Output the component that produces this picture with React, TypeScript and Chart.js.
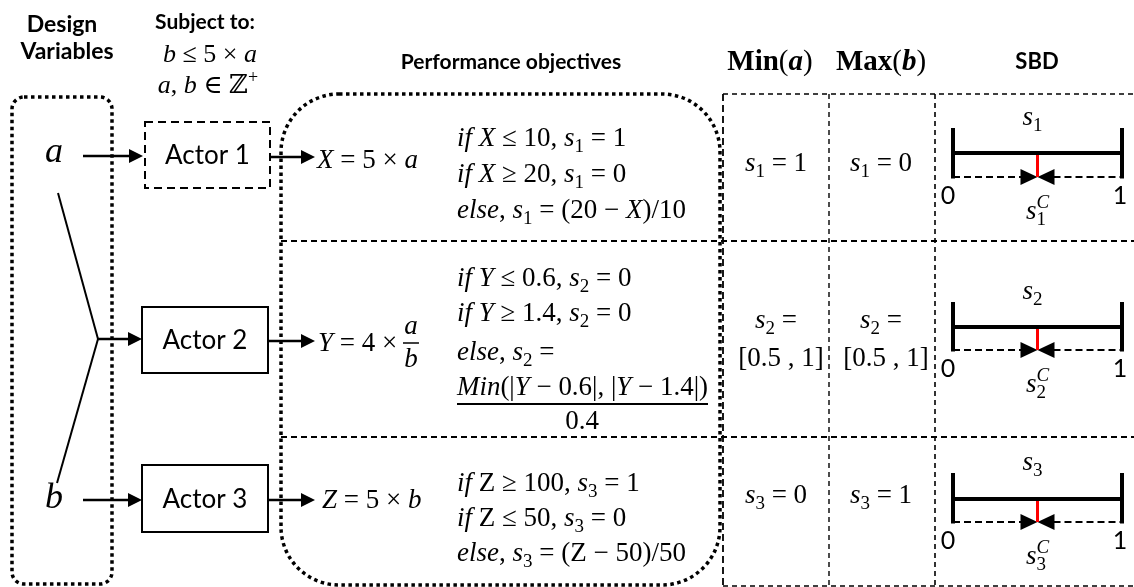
import React, { useEffect, useRef } from "react";
import { Chart, registerables } from "chart.js";

Chart.register(...registerables);

// ---------------- data ----------------
const headers = ["Design", "Variables", "Subject to:", "Performance objectives", "SBD"];
const designVariables = ["a", "b"];
const constraints = ["*b* ≤ 5 × *a*", "*a*, *b* ∈ ℤ^{+}"];
const actors = ["Actor 1", "Actor 2", "Actor 3"];
const outputs = ["*X* = 5 × *a*", "*Y* = 4 × ", "*Z* = 5 × *b*"];
const outputFraction = ["*a*", "*b*"];
const rulesX = ["*if X* ≤ 10, *s*_{1} = 1", "*if X* ≥ 20, *s*_{1} = 0", "*else*, *s*_{1} = (20 − *X*)/10"];
const rulesY = ["*if Y* ≤ 0.6, *s*_{2} = 0", "*if Y* ≥ 1.4, *s*_{2} = 0", "*else*, *s*_{2} ="];
const rulesYFraction = ["*Min*(|*Y* − 0.6|, |*Y* − 1.4|)", "0.4"];
const rulesZ = ["*if* Z ≥ 100, *s*_{3} = 1", "*if* Z ≤ 50, *s*_{3} = 0", "*else*, *s*_{3} = (Z − 50)/50"];
const columnHeaders = ["#Min#(#*a*#)", "#Max#(#*b*#)"];
const minA = [["*s*_{1} = 1"], ["*s*_{2} =", "[0.5 , 1]"], ["*s*_{3} = 0"]];
const maxB = [["*s*_{1} = 0"], ["*s*_{2} =", "[0.5 , 1]"], ["*s*_{3} = 1"]];
const sbdNames = ["*s*_{1}", "*s*_{2}", "*s*_{3}"];
const sbdCompromiseNames = ["*s*_{1}^{*C*}", "*s*_{2}^{*C*}", "*s*_{3}^{*C*}"];
const sbdRange = [0, 1];
const sbdCompromise = [0.5, 0.5, 0.5];

// ---------------- rendering helpers ----------------
const W = 1134;
const H = 587;
const SANS = 'Lato, "Open Sans", sans-serif';
const SERIF = '"Liberation Serif", "DejaVu Serif", serif';

type Tok = { t: string; it: boolean; bd: boolean; k: number };

function parse(s: string): Tok[] {
  const out: Tok[] = [];
  let it = false, bd = false, k = 0, buf = "";
  const flush = () => {
    if (buf) { out.push({ t: buf, it, bd, k }); buf = ""; }
  };
  for (let i = 0; i < s.length; i++) {
    const c = s[i];
    if (c === "*") { flush(); it = !it; }
    else if (c === "#") { flush(); bd = !bd; }
    else if ((c === "_" || c === "^") && s[i + 1] === "{") { flush(); k = c === "_" ? 1 : 2; i++; }
    else if (c === "}" && k) { flush(); k = 0; }
    else buf += c;
  }
  flush();
  return out;
}

function rich(ctx: CanvasRenderingContext2D, s: string, x: number, y: number, size: number, align: string, maxW = 0, family = SERIF) {
  const toks = parse(s);
  const fontOf = (tk: Tok) => `${tk.it ? "italic " : ""}${tk.bd ? "bold " : ""}${tk.k ? Math.round(size * 0.7) : size}px ${family}`;
  const pos: number[] = [];
  let cx = 0, subStart = 0, groupEnd = 0;
  toks.forEach((tk, i) => {
    ctx.font = fontOf(tk);
    const w = ctx.measureText(tk.t).width;
    if (tk.k === 2 && i > 0 && toks[i - 1].k === 1) {
      pos.push(subStart);
      cx = Math.max(groupEnd, subStart + w);
    } else {
      if (tk.k === 1) subStart = cx;
      pos.push(cx);
      cx += w;
      groupEnd = cx;
    }
  });
  const sc = maxW && cx > maxW ? maxW / cx : 1;
  const tw = cx * sc;
  const x0 = align === "center" ? x - tw / 2 : align === "right" ? x - tw : x;
  ctx.save();
  ctx.translate(x0, y);
  ctx.scale(sc, 1);
  ctx.textAlign = "left";
  ctx.textBaseline = "alphabetic";
  toks.forEach((tk, i) => {
    ctx.font = fontOf(tk);
    const dy = tk.k === 1 ? size * 0.22 : tk.k === 2 ? -size * 0.4 : 0;
    ctx.fillText(tk.t, pos[i], dy);
  });
  ctx.restore();
  return tw;
}

const diagramPlugin = {
  id: "diagram",
  afterDraw(chart: any) {
    const ctx: CanvasRenderingContext2D = chart.ctx;
    const xs = chart.scales.x, ys = chart.scales.y;
    const X = (v: number) => xs.getPixelForValue(v);
    const Y = (v: number) => ys.getPixelForValue(v);
    ctx.save();
    ctx.fillStyle = "#000";
    ctx.strokeStyle = "#000";

    const line = (x1: number, y1: number, x2: number, y2: number, w: number, dash: number[] = []) => {
      ctx.beginPath();
      ctx.setLineDash(dash);
      ctx.lineWidth = w;
      ctx.moveTo(X(x1), Y(y1));
      ctx.lineTo(X(x2), Y(y2));
      ctx.stroke();
      ctx.setLineDash([]);
    };
    const head = (tipX: number, y: number, dir: number, len = 13, half = 6.5) => {
      ctx.beginPath();
      ctx.moveTo(X(tipX), Y(y));
      ctx.lineTo(X(tipX - dir * len), Y(y - half));
      ctx.lineTo(X(tipX - dir * len), Y(y + half));
      ctx.closePath();
      ctx.fill();
    };
    const arrow = (x1: number, x2: number, y: number) => {
      line(x1, y, x2 - 10, y, 2.5);
      head(x2, y, 1, 14, 7);
    };
    const rrect = (x1: number, y1: number, x2: number, y2: number, r: number, w: number, dash: number[]) => {
      ctx.beginPath();
      ctx.setLineDash(dash);
      ctx.lineWidth = w;
      (ctx as any).roundRect(X(x1), Y(y1), X(x2) - X(x1), Y(y2) - Y(y1), r);
      ctx.stroke();
      ctx.setLineDash([]);
    };
    const rect = (x1: number, y1: number, x2: number, y2: number, w: number, dash: number[]) => {
      ctx.beginPath();
      ctx.setLineDash(dash);
      ctx.lineWidth = w;
      ctx.rect(X(x1), Y(y1), X(x2) - X(x1), Y(y2) - Y(y1));
      ctx.stroke();
      ctx.setLineDash([]);
    };
    const sans = (t: string, x: number, y: number, size: number, bold = false) => {
      ctx.font = `${bold ? "bold " : ""}${size}px ${SANS}`;
      ctx.textAlign = "center";
      ctx.textBaseline = "alphabetic";
      ctx.fillText(t, X(x), Y(y));
    };
    const math = (s: string, x: number, y: number, size: number, align = "left", maxW = 0) => rich(ctx, s, X(x), Y(y), size, align, maxW);

    // headers
    sans(headers[0], 62, 32, 23, true);
    sans(headers[1], 67, 59, 23, true);
    sans(headers[2], 205, 29, 21, true);
    sans(headers[3], 511, 69, 21, true);
    sans(headers[4], 1037, 69, 22, true);
    math(constraints[0], 210, 62, 26, "center");
    math(constraints[1], 208, 93, 26, "center");
    math(columnHeaders[0], 770, 70, 29, "center");
    math(columnHeaders[1], 881, 70, 29, "center");

    // containers
    rrect(12, 97, 112, 584, 12, 3.5, [3.5, 3.5]);
    rrect(281, 94, 720, 585, 58, 3.5, [3.5, 3.5]);

    // table grid
    const thin = [5, 4];
    line(723, 94, W, 94, 1.6, thin);
    line(723, 586, W, 586, 1.6, thin);
    line(723, 94, 723, 587, 1.8, [7, 4]);
    line(829, 94, 829, 587, 1.4, thin);
    line(935, 94, 935, 587, 1.6, thin);
    line(281, 241, W, 241, 1.8, [6, 4]);
    line(281, 437, W, 437, 1.8, [6, 4]);

    // design variables
    ctx.font = `italic 36px ${SERIF}`;
    ctx.textAlign = "center";
    ctx.fillText(designVariables[0], X(54), Y(162));
    ctx.fillText(designVariables[1], X(54), Y(508));
    line(58, 193, 98, 339, 2);
    line(98, 339, 57, 483, 2);
    arrow(83, 143, 156);
    arrow(98, 142, 339);
    arrow(83, 142, 500);

    // actors
    const actorBoxes = [[145, 122, 270, 188], [142, 307, 268, 373], [142, 465, 268, 532]];
    actorBoxes.forEach((b, i) => {
      rect(b[0], b[1], b[2], b[3], 2, i === 0 ? [8, 5] : []);
      sans(actors[i], (b[0] + b[2]) / 2, (b[1] + b[3]) / 2 + 9, 26);
    });
    arrow(270, 315, 157);
    arrow(268, 315, 341);
    arrow(268, 315, 500);

    // output definitions
    const MS = 27;
    const OFF = 8;
    math(outputs[0], 317, 160 + OFF, MS);
    const wY = math(outputs[1], 318, 343 + OFF, MS);
    const fx = X(318) + wY + 7;
    rich(ctx, outputFraction[0], fx, Y(334), MS, "center");
    rich(ctx, outputFraction[1], fx, Y(367), MS, "center");
    ctx.beginPath(); ctx.lineWidth = 1.5; ctx.moveTo(fx - 8, Y(343)); ctx.lineTo(fx + 8, Y(343)); ctx.stroke();
    math(outputs[2], 322, 500 + OFF, MS);

    // rules
    const rx = 457;
    [138, 174, 210].forEach((c, i) => math(rulesX[i], rx, c + OFF, MS));
    [278, 313, 352].forEach((c, i) => math(rulesY[i], rx, c + OFF, MS));
    math(rulesYFraction[0], rx, 395, MS, "left", 251);
    line(rx, 404, 708, 404, 2);
    math(rulesYFraction[1], 582, 429, MS, "center");
    [483, 518, 553].forEach((c, i) => math(rulesZ[i], rx, c + OFF, MS));

    // Min(a) / Max(b) columns
    const rowCenters = [163, 339, 495];
    [minA, maxB].forEach((col, ci) => {
      const cx = ci === 0 ? 776 : 881;
      col.forEach((lines, ri) => {
        if (lines.length === 1) math(lines[0], cx, rowCenters[ri] + OFF, MS, "center");
        else {
          math(lines[0], cx, 328, MS, "center");
          math(lines[1], cx + 5, 366, MS, "center");
        }
      });
    });

    // SBD
    const sL = 953, sR = 1122;
    const sx = (v: number) => sL + ((v - sbdRange[0]) / (sbdRange[1] - sbdRange[0])) * (sR - sL);
    const tickTop = [128, 302, 473];
    const barY = [153, 327, 499];
    const dashY = [177, 350, 522];
    sbdCompromise.forEach((c, i) => {
      const cxv = sx(c);
      math(sbdNames[i], sx(0.5) - 5, tickTop[i] - 3, MS, "center");
      ctx.lineCap = "butt";
      line(sx(sbdRange[0]), tickTop[i], sx(sbdRange[0]), dashY[i] + 1.5, 4);
      line(sx(sbdRange[1]), tickTop[i], sx(sbdRange[1]), dashY[i] + 1.5, 4);
      line(sx(sbdRange[0]), barY[i], sx(sbdRange[1]), barY[i], 4);
      line(sx(sbdRange[0]), dashY[i], cxv - 16, dashY[i], 2.2, [7, 4]);
      line(cxv + 16, dashY[i], sx(sbdRange[1]), dashY[i], 2.2, [7, 4]);
      head(cxv, dashY[i], 1, 17, 8);
      head(cxv, dashY[i], -1, 17, 8);
      ctx.strokeStyle = "#ff0000";
      line(cxv, barY[i] + 2, cxv, dashY[i], 3);
      ctx.strokeStyle = "#000";
      sans(String(sbdRange[0]), sL - 5, dashY[i] + 27, 25);
      sans(String(sbdRange[1]), sR - 2, dashY[i] + 27, 25);
      math(sbdCompromiseNames[i], cxv, dashY[i] + 42, MS, "center");
    });

    ctx.restore();
  },
};

export default function App() {
  const ref = useRef<HTMLCanvasElement | null>(null);
  useEffect(() => {
    let chart: Chart | null = null;
    let cancelled = false;
    const make = () => {
      if (cancelled || !ref.current) return;
      chart = new Chart(ref.current, {
        type: "scatter",
        data: { datasets: [] },
        options: {
          responsive: false,
          maintainAspectRatio: false,
          animation: false,
          events: [],
          layout: { padding: 0 },
          plugins: { legend: { display: false }, tooltip: { enabled: false } },
          scales: {
            x: { type: "linear", min: 0, max: W, display: false },
            y: { type: "linear", min: 0, max: H, reverse: true, display: false },
          },
        },
        plugins: [diagramPlugin],
      } as any);
    };
    const fonts = [`22px Lato`, `bold 22px Lato`, `24px "Liberation Serif"`, `italic 24px "Liberation Serif"`, `bold 24px "Liberation Serif"`, `bold italic 24px "Liberation Serif"`];
    Promise.all(fonts.map((f) => (document as any).fonts.load(f))).catch(() => {}).then(make);
    return () => {
      cancelled = true;
      if (chart) chart.destroy();
    };
  }, []);
  return (
    <div style={{ position: "fixed", left: 0, top: 0, width: W, height: H, background: "#fff" }}>
      <canvas ref={ref} width={W} height={H} style={{ width: W, height: H, display: "block" }} />
    </div>
  );
}
